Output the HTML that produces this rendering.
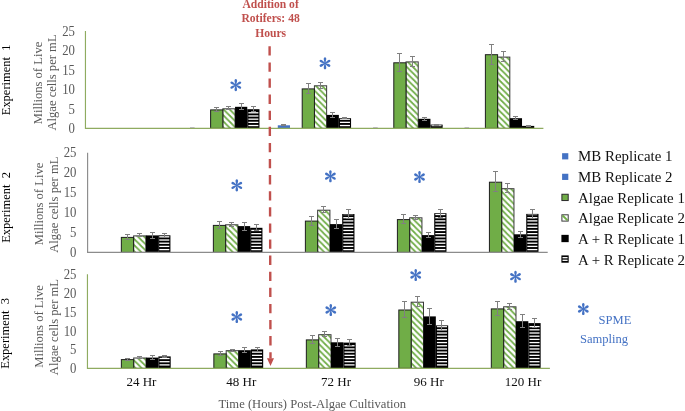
<!DOCTYPE html>
<html><head><meta charset="utf-8"><style>
html,body{margin:0;padding:0;background:#fff;width:685px;height:411px;overflow:hidden}
svg{display:block;will-change:transform}
text{font-family:"Liberation Serif",serif}
</style></head><body>
<svg width="685" height="411" viewBox="0 0 685 411">
<defs>
<pattern id="diag0" patternUnits="userSpaceOnUse" width="6.1" height="6.1" patternTransform="translate(0,1.8)"><rect width="6.1" height="6.1" fill="#fff"/><path d="M-1.5,-1.5 L7.6,7.6 M-7.6,-1.5 L1.5,7.6 M4.6,-1.5 L13.7,7.6" stroke="#70AD47" stroke-width="1.7"/></pattern><pattern id="diag1" patternUnits="userSpaceOnUse" width="6.1" height="6.1" patternTransform="translate(0,1.1)"><rect width="6.1" height="6.1" fill="#fff"/><path d="M-1.5,-1.5 L7.6,7.6 M-7.6,-1.5 L1.5,7.6 M4.6,-1.5 L13.7,7.6" stroke="#70AD47" stroke-width="1.7"/></pattern><pattern id="diag2" patternUnits="userSpaceOnUse" width="6.1" height="6.1" patternTransform="translate(0,0.7)"><rect width="6.1" height="6.1" fill="#fff"/><path d="M-1.5,-1.5 L7.6,7.6 M-7.6,-1.5 L1.5,7.6 M4.6,-1.5 L13.7,7.6" stroke="#70AD47" stroke-width="1.7"/></pattern>
<g id="ast">
<path d="M-0.4,0 L-1.2,-3.7 C-1.5,-5.1 -1,-6.05 0,-6.05 C1,-6.05 1.5,-5.1 1.2,-3.7 L0.4,0Z"/>
</g>
<g id="star"><circle r="0.8"/><use href="#ast"/><use href="#ast" transform="rotate(60)"/><use href="#ast" transform="rotate(120)"/><use href="#ast" transform="rotate(180)"/><use href="#ast" transform="rotate(240)"/><use href="#ast" transform="rotate(300)"/></g>
</defs>

<rect x="222.83" y="108.80" width="12.21" height="19.55" fill="url(#diag0)" stroke="#3a3a3a" stroke-width="1"/>
<path d="M228.50,106.50V109.50M226.00,106.50h5M226.00,109.50h5" stroke="#808080" stroke-width="1" fill="none"/>
<rect x="210.62" y="109.90" width="12.21" height="18.45" fill="#70AD47" stroke="#1e1e1e" stroke-width="1"/>
<path d="M216.50,107.50V111.50M214.00,107.50h5M214.00,111.50h5" stroke="#808080" stroke-width="1" fill="none"/>
<rect x="235.05" y="106.80" width="12.21" height="21.55" fill="#000"/>
<path d="M241.50,103.50V109.50M239.00,103.50h5M239.00,109.50h5" stroke="#808080" stroke-width="1" fill="none"/>
<rect x="247.26" y="109.20" width="12.21" height="19.15" fill="#000"/>
<rect x="248.36" y="124.90" width="10.01" height="1.30" fill="#fff"/>
<rect x="248.36" y="121.71" width="10.01" height="1.30" fill="#fff"/>
<rect x="248.36" y="118.52" width="10.01" height="1.30" fill="#fff"/>
<rect x="248.36" y="115.33" width="10.01" height="1.30" fill="#fff"/>
<rect x="248.36" y="112.14" width="10.01" height="1.30" fill="#fff"/>
<path d="M253.50,106.50V111.50M251.00,106.50h5M251.00,111.50h5" stroke="#808080" stroke-width="1" fill="none"/>
<rect x="314.42" y="85.80" width="12.21" height="42.55" fill="url(#diag0)" stroke="#3a3a3a" stroke-width="1"/>
<path d="M320.50,82.50V88.50M318.00,82.50h5M318.00,88.50h5" stroke="#808080" stroke-width="1" fill="none"/>
<rect x="277.79" y="125.30" width="12.21" height="3.05" fill="#4472C4"/>
<path d="M283.50,124.50V125.50M281.00,124.50h5M281.00,125.50h5" stroke="#808080" stroke-width="1" fill="none"/>
<rect x="302.21" y="88.90" width="12.21" height="39.45" fill="#70AD47" stroke="#1e1e1e" stroke-width="1"/>
<path d="M308.50,83.50V93.50M306.00,83.50h5M306.00,93.50h5" stroke="#808080" stroke-width="1" fill="none"/>
<rect x="326.64" y="114.90" width="12.21" height="13.45" fill="#000"/>
<path d="M332.50,112.50V117.50M330.00,112.50h5M330.00,117.50h5" stroke="#808080" stroke-width="1" fill="none"/>
<rect x="338.85" y="118.20" width="12.21" height="10.15" fill="#000"/>
<rect x="339.95" y="124.90" width="10.01" height="1.30" fill="#fff"/>
<rect x="339.95" y="121.71" width="10.01" height="1.30" fill="#fff"/>
<rect x="339.95" y="118.90" width="10.01" height="0.92" fill="#fff"/>
<path d="M344.50,117.50V118.50M342.00,117.50h5M342.00,118.50h5" stroke="#808080" stroke-width="1" fill="none"/>
<rect x="406.01" y="61.90" width="12.21" height="66.45" fill="url(#diag0)" stroke="#3a3a3a" stroke-width="1"/>
<path d="M412.50,56.50V66.50M410.00,56.50h5M410.00,66.50h5" stroke="#808080" stroke-width="1" fill="none"/>
<rect x="393.80" y="62.80" width="12.21" height="65.55" fill="#70AD47" stroke="#1e1e1e" stroke-width="1"/>
<path d="M399.50,53.50V71.50M397.00,53.50h5M397.00,71.50h5" stroke="#808080" stroke-width="1" fill="none"/>
<rect x="418.23" y="118.80" width="12.21" height="9.55" fill="#000"/>
<path d="M424.50,117.50V120.50M422.00,117.50h5M422.00,120.50h5" stroke="#808080" stroke-width="1" fill="none"/>
<rect x="430.44" y="124.60" width="12.21" height="3.75" fill="#000"/>
<rect x="431.54" y="125.30" width="10.01" height="0.90" fill="#fff"/>
<path d="M436.50,124.50V125.50M434.00,124.50h5M434.00,125.50h5" stroke="#808080" stroke-width="1" fill="none"/>
<rect x="497.61" y="57.10" width="12.21" height="71.25" fill="url(#diag0)" stroke="#3a3a3a" stroke-width="1"/>
<path d="M503.50,51.50V61.50M501.00,51.50h5M501.00,61.50h5" stroke="#808080" stroke-width="1" fill="none"/>
<rect x="485.39" y="54.70" width="12.21" height="73.65" fill="#70AD47" stroke="#1e1e1e" stroke-width="1"/>
<path d="M491.50,44.50V64.50M489.00,44.50h5M489.00,64.50h5" stroke="#808080" stroke-width="1" fill="none"/>
<rect x="509.82" y="118.20" width="12.21" height="10.15" fill="#000"/>
<path d="M515.50,116.50V119.50M513.00,116.50h5M513.00,119.50h5" stroke="#808080" stroke-width="1" fill="none"/>
<rect x="522.03" y="125.90" width="12.21" height="2.45" fill="#000"/>
<path d="M528.50,125.50V126.50M526.00,125.50h5M526.00,126.50h5" stroke="#808080" stroke-width="1" fill="none"/>
<path d="M85.45,31.00V128.35H543.40" stroke="#8FAB60" stroke-width="1.15" fill="none"/>
<text transform="translate(74.9,133.30) scale(0.96,1.02)" font-size="13.3" fill="#595959" text-anchor="end">0</text>
<text transform="translate(74.9,113.82) scale(0.96,1.02)" font-size="13.3" fill="#595959" text-anchor="end">5</text>
<text transform="translate(74.9,94.34) scale(0.96,1.02)" font-size="13.3" fill="#595959" text-anchor="end">10</text>
<text transform="translate(74.9,74.86) scale(0.96,1.02)" font-size="13.3" fill="#595959" text-anchor="end">15</text>
<text transform="translate(74.9,55.38) scale(0.96,1.02)" font-size="13.3" fill="#595959" text-anchor="end">20</text>
<text transform="translate(74.9,35.90) scale(0.96,1.02)" font-size="13.3" fill="#595959" text-anchor="end">25</text>
<rect x="133.61" y="235.90" width="12.27" height="16.50" fill="url(#diag1)" stroke="#3a3a3a" stroke-width="1"/>
<path d="M139.50,233.50V236.50M137.00,233.50h5M137.00,236.50h5" stroke="#808080" stroke-width="1" fill="none"/>
<rect x="121.34" y="237.40" width="12.27" height="15.00" fill="#70AD47" stroke="#1e1e1e" stroke-width="1"/>
<path d="M127.50,234.50V239.50M125.00,234.50h5M125.00,239.50h5" stroke="#808080" stroke-width="1" fill="none"/>
<rect x="145.88" y="235.40" width="12.27" height="17.00" fill="#000"/>
<path d="M152.50,232.50V238.50M150.00,232.50h5M150.00,238.50h5" stroke="#808080" stroke-width="1" fill="none"/>
<rect x="158.15" y="235.30" width="12.27" height="17.10" fill="#000"/>
<rect x="159.25" y="248.95" width="10.07" height="1.30" fill="#fff"/>
<rect x="159.25" y="245.76" width="10.07" height="1.30" fill="#fff"/>
<rect x="159.25" y="242.57" width="10.07" height="1.30" fill="#fff"/>
<rect x="159.25" y="239.38" width="10.07" height="1.30" fill="#fff"/>
<rect x="159.25" y="236.19" width="10.07" height="1.30" fill="#fff"/>
<path d="M164.50,233.50V237.50M162.00,233.50h5M162.00,237.50h5" stroke="#808080" stroke-width="1" fill="none"/>
<rect x="225.63" y="224.80" width="12.27" height="27.60" fill="url(#diag1)" stroke="#3a3a3a" stroke-width="1"/>
<path d="M231.50,222.50V226.50M229.00,222.50h5M229.00,226.50h5" stroke="#808080" stroke-width="1" fill="none"/>
<rect x="213.36" y="225.40" width="12.27" height="27.00" fill="#70AD47" stroke="#1e1e1e" stroke-width="1"/>
<path d="M219.50,221.50V228.50M217.00,221.50h5M217.00,228.50h5" stroke="#808080" stroke-width="1" fill="none"/>
<rect x="237.90" y="226.10" width="12.27" height="26.30" fill="#000"/>
<path d="M244.50,222.50V230.50M242.00,222.50h5M242.00,230.50h5" stroke="#808080" stroke-width="1" fill="none"/>
<rect x="250.17" y="227.80" width="12.27" height="24.60" fill="#000"/>
<rect x="251.27" y="248.95" width="10.07" height="1.30" fill="#fff"/>
<rect x="251.27" y="245.76" width="10.07" height="1.30" fill="#fff"/>
<rect x="251.27" y="242.57" width="10.07" height="1.30" fill="#fff"/>
<rect x="251.27" y="239.38" width="10.07" height="1.30" fill="#fff"/>
<rect x="251.27" y="236.19" width="10.07" height="1.30" fill="#fff"/>
<rect x="251.27" y="233.00" width="10.07" height="1.30" fill="#fff"/>
<rect x="251.27" y="229.81" width="10.07" height="1.30" fill="#fff"/>
<path d="M256.50,224.50V230.50M254.00,224.50h5M254.00,230.50h5" stroke="#808080" stroke-width="1" fill="none"/>
<rect x="317.65" y="210.20" width="12.27" height="42.20" fill="url(#diag1)" stroke="#3a3a3a" stroke-width="1"/>
<path d="M323.50,206.50V212.50M321.00,206.50h5M321.00,212.50h5" stroke="#808080" stroke-width="1" fill="none"/>
<rect x="305.38" y="221.10" width="12.27" height="31.30" fill="#70AD47" stroke="#1e1e1e" stroke-width="1"/>
<path d="M311.50,216.50V225.50M309.00,216.50h5M309.00,225.50h5" stroke="#808080" stroke-width="1" fill="none"/>
<rect x="329.92" y="224.10" width="12.27" height="28.30" fill="#000"/>
<path d="M336.50,219.50V228.50M334.00,219.50h5M334.00,228.50h5" stroke="#808080" stroke-width="1" fill="none"/>
<rect x="342.19" y="214.00" width="12.27" height="38.40" fill="#000"/>
<rect x="343.29" y="248.95" width="10.07" height="1.30" fill="#fff"/>
<rect x="343.29" y="245.76" width="10.07" height="1.30" fill="#fff"/>
<rect x="343.29" y="242.57" width="10.07" height="1.30" fill="#fff"/>
<rect x="343.29" y="239.38" width="10.07" height="1.30" fill="#fff"/>
<rect x="343.29" y="236.19" width="10.07" height="1.30" fill="#fff"/>
<rect x="343.29" y="233.00" width="10.07" height="1.30" fill="#fff"/>
<rect x="343.29" y="229.81" width="10.07" height="1.30" fill="#fff"/>
<rect x="343.29" y="226.62" width="10.07" height="1.30" fill="#fff"/>
<rect x="343.29" y="223.43" width="10.07" height="1.30" fill="#fff"/>
<rect x="343.29" y="220.24" width="10.07" height="1.30" fill="#fff"/>
<rect x="343.29" y="217.05" width="10.07" height="1.30" fill="#fff"/>
<rect x="343.29" y="214.70" width="10.07" height="0.46" fill="#fff"/>
<path d="M348.50,209.50V218.50M346.00,209.50h5M346.00,218.50h5" stroke="#808080" stroke-width="1" fill="none"/>
<rect x="409.67" y="217.80" width="12.27" height="34.60" fill="url(#diag1)" stroke="#3a3a3a" stroke-width="1"/>
<path d="M415.50,215.50V219.50M413.00,215.50h5M413.00,219.50h5" stroke="#808080" stroke-width="1" fill="none"/>
<rect x="397.40" y="219.60" width="12.27" height="32.80" fill="#70AD47" stroke="#1e1e1e" stroke-width="1"/>
<path d="M403.50,214.50V223.50M401.00,214.50h5M401.00,223.50h5" stroke="#808080" stroke-width="1" fill="none"/>
<rect x="421.94" y="235.10" width="12.27" height="17.30" fill="#000"/>
<path d="M428.50,232.50V237.50M426.00,232.50h5M426.00,237.50h5" stroke="#808080" stroke-width="1" fill="none"/>
<rect x="434.21" y="213.20" width="12.27" height="39.20" fill="#000"/>
<rect x="435.31" y="248.95" width="10.07" height="1.30" fill="#fff"/>
<rect x="435.31" y="245.76" width="10.07" height="1.30" fill="#fff"/>
<rect x="435.31" y="242.57" width="10.07" height="1.30" fill="#fff"/>
<rect x="435.31" y="239.38" width="10.07" height="1.30" fill="#fff"/>
<rect x="435.31" y="236.19" width="10.07" height="1.30" fill="#fff"/>
<rect x="435.31" y="233.00" width="10.07" height="1.30" fill="#fff"/>
<rect x="435.31" y="229.81" width="10.07" height="1.30" fill="#fff"/>
<rect x="435.31" y="226.62" width="10.07" height="1.30" fill="#fff"/>
<rect x="435.31" y="223.43" width="10.07" height="1.30" fill="#fff"/>
<rect x="435.31" y="220.24" width="10.07" height="1.30" fill="#fff"/>
<rect x="435.31" y="217.05" width="10.07" height="1.30" fill="#fff"/>
<rect x="435.31" y="213.90" width="10.07" height="1.26" fill="#fff"/>
<path d="M440.50,209.50V217.50M438.00,209.50h5M438.00,217.50h5" stroke="#808080" stroke-width="1" fill="none"/>
<rect x="501.69" y="188.70" width="12.27" height="63.70" fill="url(#diag1)" stroke="#3a3a3a" stroke-width="1"/>
<path d="M507.50,183.50V192.50M505.00,183.50h5M505.00,192.50h5" stroke="#808080" stroke-width="1" fill="none"/>
<rect x="489.42" y="182.20" width="12.27" height="70.20" fill="#70AD47" stroke="#1e1e1e" stroke-width="1"/>
<path d="M495.50,171.50V191.50M493.00,171.50h5M493.00,191.50h5" stroke="#808080" stroke-width="1" fill="none"/>
<rect x="513.96" y="234.30" width="12.27" height="18.10" fill="#000"/>
<path d="M520.50,231.50V237.50M518.00,231.50h5M518.00,237.50h5" stroke="#808080" stroke-width="1" fill="none"/>
<rect x="526.23" y="213.90" width="12.27" height="38.50" fill="#000"/>
<rect x="527.33" y="248.95" width="10.07" height="1.30" fill="#fff"/>
<rect x="527.33" y="245.76" width="10.07" height="1.30" fill="#fff"/>
<rect x="527.33" y="242.57" width="10.07" height="1.30" fill="#fff"/>
<rect x="527.33" y="239.38" width="10.07" height="1.30" fill="#fff"/>
<rect x="527.33" y="236.19" width="10.07" height="1.30" fill="#fff"/>
<rect x="527.33" y="233.00" width="10.07" height="1.30" fill="#fff"/>
<rect x="527.33" y="229.81" width="10.07" height="1.30" fill="#fff"/>
<rect x="527.33" y="226.62" width="10.07" height="1.30" fill="#fff"/>
<rect x="527.33" y="223.43" width="10.07" height="1.30" fill="#fff"/>
<rect x="527.33" y="220.24" width="10.07" height="1.30" fill="#fff"/>
<rect x="527.33" y="217.05" width="10.07" height="1.30" fill="#fff"/>
<rect x="527.33" y="214.60" width="10.07" height="0.56" fill="#fff"/>
<path d="M532.50,209.50V218.50M530.00,209.50h5M530.00,218.50h5" stroke="#808080" stroke-width="1" fill="none"/>
<path d="M87.60,152.80V252.40H547.70" stroke="#8C8C8C" stroke-width="1.15" fill="none"/>
<text transform="translate(76.5,257.35) scale(0.96,1.02)" font-size="13.3" fill="#595959" text-anchor="end">0</text>
<text transform="translate(76.5,237.35) scale(0.96,1.02)" font-size="13.3" fill="#595959" text-anchor="end">5</text>
<text transform="translate(76.5,217.35) scale(0.96,1.02)" font-size="13.3" fill="#595959" text-anchor="end">10</text>
<text transform="translate(76.5,197.35) scale(0.96,1.02)" font-size="13.3" fill="#595959" text-anchor="end">15</text>
<text transform="translate(76.5,177.35) scale(0.96,1.02)" font-size="13.3" fill="#595959" text-anchor="end">20</text>
<text transform="translate(76.5,157.35) scale(0.96,1.02)" font-size="13.3" fill="#595959" text-anchor="end">25</text>
<rect x="133.69" y="358.00" width="12.33" height="10.30" fill="url(#diag2)" stroke="#3a3a3a" stroke-width="1"/>
<path d="M139.50,356.50V358.50M137.00,356.50h5M137.00,358.50h5" stroke="#808080" stroke-width="1" fill="none"/>
<rect x="121.36" y="359.60" width="12.33" height="8.70" fill="#70AD47" stroke="#1e1e1e" stroke-width="1"/>
<path d="M127.50,358.50V360.50M125.00,358.50h5M125.00,360.50h5" stroke="#808080" stroke-width="1" fill="none"/>
<rect x="146.03" y="357.60" width="12.33" height="10.70" fill="#000"/>
<path d="M152.50,355.50V359.50M150.00,355.50h5M150.00,359.50h5" stroke="#808080" stroke-width="1" fill="none"/>
<rect x="158.36" y="356.40" width="12.33" height="11.90" fill="#000"/>
<rect x="159.46" y="364.25" width="10.13" height="1.30" fill="#fff"/>
<rect x="159.46" y="361.06" width="10.13" height="1.30" fill="#fff"/>
<rect x="159.46" y="357.87" width="10.13" height="1.30" fill="#fff"/>
<path d="M164.50,355.50V357.50M162.00,355.50h5M162.00,357.50h5" stroke="#808080" stroke-width="1" fill="none"/>
<rect x="226.19" y="350.70" width="12.33" height="17.60" fill="url(#diag2)" stroke="#3a3a3a" stroke-width="1"/>
<path d="M232.50,349.50V351.50M230.00,349.50h5M230.00,351.50h5" stroke="#808080" stroke-width="1" fill="none"/>
<rect x="213.85" y="353.90" width="12.33" height="14.40" fill="#70AD47" stroke="#1e1e1e" stroke-width="1"/>
<path d="M220.50,351.50V355.50M218.00,351.50h5M218.00,355.50h5" stroke="#808080" stroke-width="1" fill="none"/>
<rect x="238.52" y="350.20" width="12.33" height="18.10" fill="#000"/>
<path d="M244.50,347.50V352.50M242.00,347.50h5M242.00,352.50h5" stroke="#808080" stroke-width="1" fill="none"/>
<rect x="250.85" y="349.40" width="12.33" height="18.90" fill="#000"/>
<rect x="251.95" y="364.25" width="10.13" height="1.30" fill="#fff"/>
<rect x="251.95" y="361.06" width="10.13" height="1.30" fill="#fff"/>
<rect x="251.95" y="357.87" width="10.13" height="1.30" fill="#fff"/>
<rect x="251.95" y="354.68" width="10.13" height="1.30" fill="#fff"/>
<rect x="251.95" y="351.49" width="10.13" height="1.30" fill="#fff"/>
<path d="M257.50,347.50V351.50M255.00,347.50h5M255.00,351.50h5" stroke="#808080" stroke-width="1" fill="none"/>
<rect x="318.68" y="334.70" width="12.33" height="33.60" fill="url(#diag2)" stroke="#3a3a3a" stroke-width="1"/>
<path d="M324.50,331.50V336.50M322.00,331.50h5M322.00,336.50h5" stroke="#808080" stroke-width="1" fill="none"/>
<rect x="306.34" y="339.90" width="12.33" height="28.40" fill="#70AD47" stroke="#1e1e1e" stroke-width="1"/>
<path d="M312.50,335.50V343.50M310.00,335.50h5M310.00,343.50h5" stroke="#808080" stroke-width="1" fill="none"/>
<rect x="331.01" y="342.30" width="12.33" height="26.00" fill="#000"/>
<path d="M337.50,338.50V346.50M335.00,338.50h5M335.00,346.50h5" stroke="#808080" stroke-width="1" fill="none"/>
<rect x="343.34" y="342.60" width="12.33" height="25.70" fill="#000"/>
<rect x="344.44" y="364.25" width="10.13" height="1.30" fill="#fff"/>
<rect x="344.44" y="361.06" width="10.13" height="1.30" fill="#fff"/>
<rect x="344.44" y="357.87" width="10.13" height="1.30" fill="#fff"/>
<rect x="344.44" y="354.68" width="10.13" height="1.30" fill="#fff"/>
<rect x="344.44" y="351.49" width="10.13" height="1.30" fill="#fff"/>
<rect x="344.44" y="348.30" width="10.13" height="1.30" fill="#fff"/>
<rect x="344.44" y="345.11" width="10.13" height="1.30" fill="#fff"/>
<path d="M349.50,339.50V345.50M347.00,339.50h5M347.00,345.50h5" stroke="#808080" stroke-width="1" fill="none"/>
<rect x="411.16" y="302.20" width="12.33" height="66.10" fill="url(#diag2)" stroke="#3a3a3a" stroke-width="1"/>
<path d="M417.50,296.50V306.50M415.00,296.50h5M415.00,306.50h5" stroke="#808080" stroke-width="1" fill="none"/>
<rect x="398.83" y="310.00" width="12.33" height="58.30" fill="#70AD47" stroke="#1e1e1e" stroke-width="1"/>
<path d="M404.50,301.50V317.50M402.00,301.50h5M402.00,317.50h5" stroke="#808080" stroke-width="1" fill="none"/>
<rect x="423.50" y="316.40" width="12.33" height="51.90" fill="#000"/>
<path d="M429.50,308.50V324.50M427.00,308.50h5M427.00,324.50h5" stroke="#808080" stroke-width="1" fill="none"/>
<rect x="435.83" y="325.40" width="12.33" height="42.90" fill="#000"/>
<rect x="436.93" y="364.25" width="10.13" height="1.30" fill="#fff"/>
<rect x="436.93" y="361.06" width="10.13" height="1.30" fill="#fff"/>
<rect x="436.93" y="357.87" width="10.13" height="1.30" fill="#fff"/>
<rect x="436.93" y="354.68" width="10.13" height="1.30" fill="#fff"/>
<rect x="436.93" y="351.49" width="10.13" height="1.30" fill="#fff"/>
<rect x="436.93" y="348.30" width="10.13" height="1.30" fill="#fff"/>
<rect x="436.93" y="345.11" width="10.13" height="1.30" fill="#fff"/>
<rect x="436.93" y="341.92" width="10.13" height="1.30" fill="#fff"/>
<rect x="436.93" y="338.73" width="10.13" height="1.30" fill="#fff"/>
<rect x="436.93" y="335.54" width="10.13" height="1.30" fill="#fff"/>
<rect x="436.93" y="332.35" width="10.13" height="1.30" fill="#fff"/>
<rect x="436.93" y="329.16" width="10.13" height="1.30" fill="#fff"/>
<rect x="436.93" y="326.10" width="10.13" height="1.17" fill="#fff"/>
<path d="M441.50,320.50V330.50M439.00,320.50h5M439.00,330.50h5" stroke="#808080" stroke-width="1" fill="none"/>
<rect x="503.65" y="306.80" width="12.33" height="61.50" fill="url(#diag2)" stroke="#3a3a3a" stroke-width="1"/>
<path d="M509.50,303.50V309.50M507.00,303.50h5M507.00,309.50h5" stroke="#808080" stroke-width="1" fill="none"/>
<rect x="491.32" y="308.90" width="12.33" height="59.40" fill="#70AD47" stroke="#1e1e1e" stroke-width="1"/>
<path d="M497.50,301.50V315.50M495.00,301.50h5M495.00,315.50h5" stroke="#808080" stroke-width="1" fill="none"/>
<rect x="515.99" y="321.20" width="12.33" height="47.10" fill="#000"/>
<path d="M522.50,314.50V327.50M520.00,314.50h5M520.00,327.50h5" stroke="#808080" stroke-width="1" fill="none"/>
<rect x="528.32" y="323.10" width="12.33" height="45.20" fill="#000"/>
<rect x="529.42" y="364.25" width="10.13" height="1.30" fill="#fff"/>
<rect x="529.42" y="361.06" width="10.13" height="1.30" fill="#fff"/>
<rect x="529.42" y="357.87" width="10.13" height="1.30" fill="#fff"/>
<rect x="529.42" y="354.68" width="10.13" height="1.30" fill="#fff"/>
<rect x="529.42" y="351.49" width="10.13" height="1.30" fill="#fff"/>
<rect x="529.42" y="348.30" width="10.13" height="1.30" fill="#fff"/>
<rect x="529.42" y="345.11" width="10.13" height="1.30" fill="#fff"/>
<rect x="529.42" y="341.92" width="10.13" height="1.30" fill="#fff"/>
<rect x="529.42" y="338.73" width="10.13" height="1.30" fill="#fff"/>
<rect x="529.42" y="335.54" width="10.13" height="1.30" fill="#fff"/>
<rect x="529.42" y="332.35" width="10.13" height="1.30" fill="#fff"/>
<rect x="529.42" y="329.16" width="10.13" height="1.30" fill="#fff"/>
<rect x="529.42" y="325.97" width="10.13" height="1.30" fill="#fff"/>
<path d="M534.50,318.50V327.50M532.00,318.50h5M532.00,327.50h5" stroke="#808080" stroke-width="1" fill="none"/>
<path d="M87.45,274.20V368.30H549.90" stroke="#8FAB60" stroke-width="1.15" fill="none"/>
<text transform="translate(76.5,372.95) scale(0.96,1.02)" font-size="13.3" fill="#595959" text-anchor="end">0</text>
<text transform="translate(76.5,354.25) scale(0.96,1.02)" font-size="13.3" fill="#595959" text-anchor="end">5</text>
<text transform="translate(76.5,335.55) scale(0.96,1.02)" font-size="13.3" fill="#595959" text-anchor="end">10</text>
<text transform="translate(76.5,316.85) scale(0.96,1.02)" font-size="13.3" fill="#595959" text-anchor="end">15</text>
<text transform="translate(76.5,298.15) scale(0.96,1.02)" font-size="13.3" fill="#595959" text-anchor="end">20</text>
<text transform="translate(76.5,279.45) scale(0.96,1.02)" font-size="13.3" fill="#595959" text-anchor="end">25</text>
<path d="M190.0,127.5h4.6" stroke="#b8b8b8" stroke-width="1"/>
<path d="M373.1,127.5h4.6" stroke="#b8b8b8" stroke-width="1"/>
<path d="M464.5,127.5h4.6" stroke="#b8b8b8" stroke-width="1"/>
<text transform="translate(9.9,79.9) rotate(-90) scale(0.96,1)" font-size="13" fill="#000" text-anchor="middle">Experiment&#160; 1</text>
<text transform="translate(10.2,207.45) rotate(-90) scale(0.96,1)" font-size="13" fill="#000" text-anchor="middle">Experiment&#160; 2</text>
<text transform="translate(9.4,333.4) rotate(-90) scale(0.96,1)" font-size="13" fill="#000" text-anchor="middle">Experiment&#160; 3</text>
<text transform="translate(41.7,83.0) rotate(-90) scale(0.94,1)" font-size="13.4" fill="#595959" text-anchor="middle">Millions of Live</text>
<text transform="translate(55.6,82.5) rotate(-90) scale(0.94,1)" font-size="13.4" fill="#595959" text-anchor="middle">Algae cells per mL</text>
<text transform="translate(43.2,204.0) rotate(-90) scale(0.94,1)" font-size="13.4" fill="#595959" text-anchor="middle">Millions of Live</text>
<text transform="translate(58.4,204.7) rotate(-90) scale(0.94,1)" font-size="13.4" fill="#595959" text-anchor="middle">Algae cells per mL</text>
<text transform="translate(43.2,326.4) rotate(-90) scale(0.94,1)" font-size="13.4" fill="#595959" text-anchor="middle">Millions of Live</text>
<text transform="translate(58.4,327.09999999999997) rotate(-90) scale(0.94,1)" font-size="13.4" fill="#595959" text-anchor="middle">Algae cells per mL</text>
<text transform="translate(126.39999999999999,386.1) scale(0.98,1.0)" font-size="13.3" fill="#111">24 Hr</text>
<text transform="translate(226.20000000000002,386.1) scale(0.98,1.0)" font-size="13.3" fill="#111">48 Hr</text>
<text transform="translate(321.0,386.1) scale(0.98,1.0)" font-size="13.3" fill="#111">72 Hr</text>
<text transform="translate(413.7,386.1) scale(0.98,1.0)" font-size="13.3" fill="#111">96 Hr</text>
<text transform="translate(504.7,386.1) scale(0.98,1.0)" font-size="13.3" fill="#111">120 Hr</text>
<text x="218.6" y="407.7" font-size="12.6" fill="#595959">Time (Hours) Post-Algae Cultivation</text>
<text x="270.6" y="8.2" font-size="11.6" font-weight="bold" fill="#C0504D" text-anchor="middle">Addition of</text>
<text x="270.6" y="22.4" font-size="11.6" font-weight="bold" fill="#C0504D" text-anchor="middle">Rotifers: 48</text>
<text x="270.6" y="36.5" font-size="11.6" font-weight="bold" fill="#C0504D" text-anchor="middle">Hours</text>
<path d="M269.6,46.3L270.5,358.6" stroke="#C0504D" stroke-width="2.4" stroke-dasharray="9.3 6.8" fill="none"/>
<path d="M267.0,358.3L274.0,358.3L270.5,365.9Z" fill="#C0504D"/>
<rect x="562.1" y="153.20" width="6.2" height="6.2" fill="#4472C4"/>
<text transform="translate(578.0,160.80) scale(1.03,0.96)" font-size="14.5" fill="#111">MB Replicate 1</text>
<rect x="562.1" y="173.75" width="6.2" height="6.2" fill="#4472C4"/>
<text transform="translate(578.0,181.66) scale(1.03,0.96)" font-size="14.5" fill="#111">MB Replicate 2</text>
<rect x="561.9" y="194.25" width="6.3" height="6.3" fill="#70AD47" stroke="#2a2a2a" stroke-width="1"/>
<text transform="translate(578.0,202.52) scale(1.03,0.96)" font-size="14.5" fill="#111">Algae Replicate 1</text>
<rect x="561.9" y="214.80" width="6.3" height="6.3" fill="#fff" stroke="#3a3a3a" stroke-width="1"/>
<path d="M562.6,215.50L567.5,220.40" stroke="#70AD47" stroke-width="1.9"/>
<text transform="translate(578.0,223.38) scale(1.03,0.96)" font-size="14.5" fill="#111">Algae Replicate 2</text>
<rect x="561.4" y="234.85" width="7.3" height="7.3" fill="#000"/>
<text transform="translate(578.0,244.24) scale(1.03,0.96)" font-size="14.5" fill="#111">A + R Replicate 1</text>
<rect x="561.4" y="255.40" width="7.3" height="7.3" fill="#000"/>
<rect x="562.5" y="257.05" width="5.1" height="1.3" fill="#fff"/>
<rect x="562.5" y="259.65" width="5.1" height="1.3" fill="#fff"/>
<text transform="translate(578.0,265.10) scale(1.03,0.96)" font-size="14.5" fill="#111">A + R Replicate 2</text>
<text x="598.6" y="323.9" font-size="12.55" fill="#4472C4">SPME</text>
<text x="580.0" y="342.6" font-size="12.55" fill="#4472C4">Sampling</text>
<use href="#star" x="0" y="0" transform="translate(235.8,85.1)" fill="#4472C4"/>
<use href="#star" x="0" y="0" transform="translate(325.0,63.3)" fill="#4472C4"/>
<use href="#star" x="0" y="0" transform="translate(236.8,185.4)" fill="#4472C4"/>
<use href="#star" x="0" y="0" transform="translate(330.4,176.2)" fill="#4472C4"/>
<use href="#star" x="0" y="0" transform="translate(419.5,177.0)" fill="#4472C4"/>
<use href="#star" x="0" y="0" transform="translate(236.8,317.0)" fill="#4472C4"/>
<use href="#star" x="0" y="0" transform="translate(330.8,310.0)" fill="#4472C4"/>
<use href="#star" x="0" y="0" transform="translate(415.7,275.0)" fill="#4472C4"/>
<use href="#star" x="0" y="0" transform="translate(515.5,276.7)" fill="#4472C4"/>
<use href="#star" x="0" y="0" transform="translate(583.3,309.0)" fill="#4472C4"/>
</svg></body></html>
